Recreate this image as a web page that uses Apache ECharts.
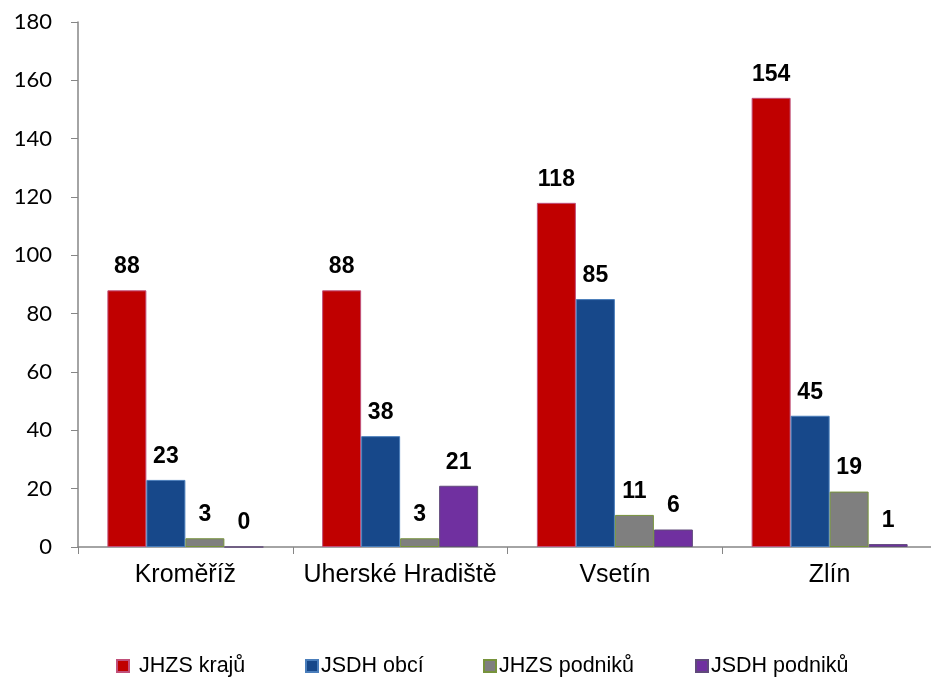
<!DOCTYPE html>
<html>
<head>
<meta charset="utf-8">
<script src="https://cdn.jsdelivr.net/npm/echarts@6/dist/echarts.min.js"></script>
<style>html,body{margin:0;padding:0;background:#fff;overflow:hidden;}#c{width:945px;height:677px;}</style>
</head>
<body>
<div id="c"></div>
<script>
const categories = ['Kroměříž', 'Uherské Hradiště', 'Vsetín', 'Zlín'];
const seriesNames = ['JHZS krajů', 'JSDH obcí', 'JHZS podniků', 'JSDH podniků'];
const jhzsKraju = [88, 88, 118, 154];
const jsdhObci = [23, 38, 85, 45];
const jhzsPodniku = [3, 3, 11, 19];
const jsdhPodniku = [0, 21, 6, 1];
const yTicks = { min: 0, max: 180, interval: 20 };

const colors = ['#C00000', '#17488A', '#7F7F7F', '#7030A0'];
const borders = ['#C0507A', '#4A7EBB', '#77933C', '#604A7B'];
const values = [jhzsKraju, jsdhObci, jhzsPodniku, jsdhPodniku];
const legendLeft = [116, 305, 483, 695];

const chart = echarts.init(document.getElementById('c'));
chart.setOption({
  animation: false,
  grid: { left: 78, top: 22, width: 859, height: 525, containLabel: false },
  legend: seriesNames.map((n, i) => ({
    data: [n], left: legendLeft[i], top: 655, padding: 0, itemWidth: 12, itemHeight: 12, icon: 'rect',
    textStyle: { fontFamily: 'Liberation Sans, Arial', fontSize: 21.5, color: '#000', padding: [0, 0, 0, i === 0 ? 5 : -2] }
  })),
  xAxis: {
    type: 'category', data: categories,
    axisLine: { lineStyle: { color: '#868686', width: 1.5 } },
    axisTick: { show: true, length: 7, alignWithLabel: false, lineStyle: { color: '#868686' } },
    axisLabel: { interval: 0, fontFamily: 'Liberation Sans, Arial', fontSize: 25, color: '#000', margin: 16 }
  },
  yAxis: {
    type: 'value', min: yTicks.min, max: yTicks.max, interval: yTicks.interval,
    axisLine: { show: true, lineStyle: { color: '#868686', width: 1.5 } },
    axisTick: { show: true, length: 7, lineStyle: { color: '#868686' } },
    splitLine: { show: false },
    axisLabel: { fontFamily: 'Lato, Open Sans', fontSize: 22, color: '#000', margin: 26 }
  },
  series: seriesNames.map((n, i) => ({
    name: n, type: 'bar', data: values[i], barWidth: 39, barGap: '0%',
    itemStyle: { color: colors[i], borderColor: borders[i], borderWidth: 1 },
    label: { show: true, position: 'top', distance: 12, fontFamily: 'Liberation Sans, Arial', fontWeight: 'bold', fontSize: 23, color: '#000' }
  }))
});
</script>
</body>
</html>
